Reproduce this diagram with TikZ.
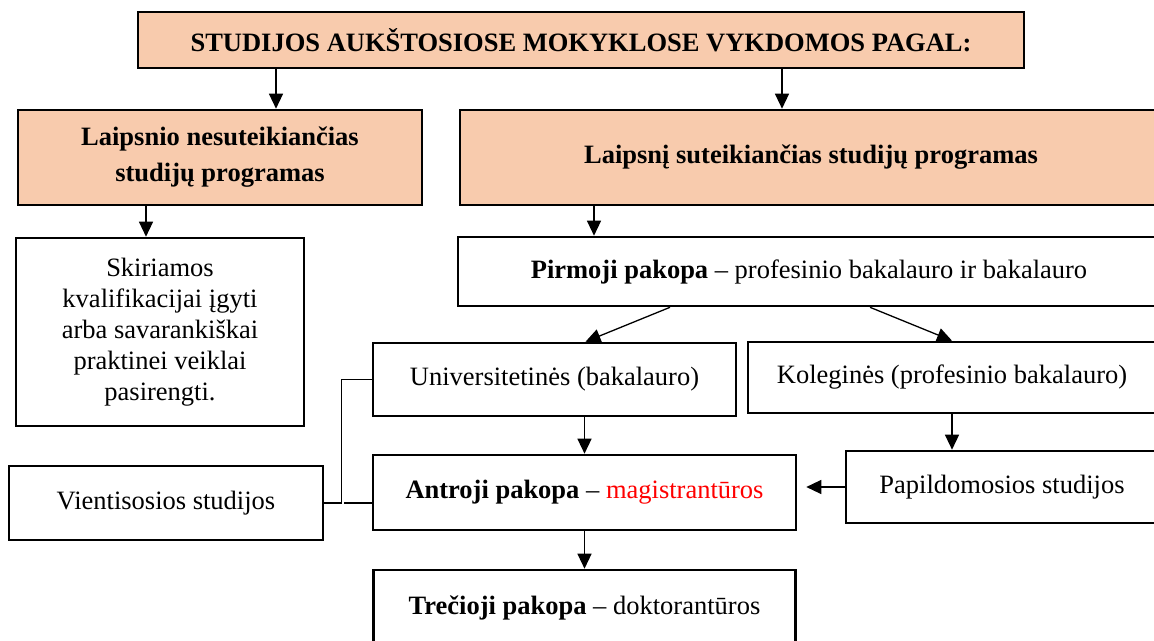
\documentclass[tikz,border=0pt]{standalone}
\usepackage{fontspec}
\setmainfont{Liberation Serif}
\usetikzlibrary{arrows.meta}
\definecolor{persikas}{HTML}{F8CBAD}

\begin{document}
\begin{tikzpicture}[x=0.5pt, y=-0.5pt,
    blokas/.style={draw, line width=1.3pt, inner sep=0pt, align=center, font=\fontsize{13.25}{15.5}\selectfont},
    spalvotas/.style={blokas, fill=persikas, font=\fontsize{13.25}{18}\selectfont\bfseries},
    rodykle/.style={-{Triangle[length=7.5pt,width=7pt]}, line width=0.65pt},
    jungtis/.style={line width=0.65pt}]
    \useasboundingbox (0,0) rectangle (1154,641);
    \clip (0,0) rectangle (1154,641);

    \node[spalvotas, minimum width=443pt, minimum height=28pt] (pagal) at (581,40)
        {STUDIJOS AUKŠTOSIOSE MOKYKLOSE VYKDOMOS PAGAL:};
    \node[spalvotas, minimum width=202pt, minimum height=47.5pt] (nesut) at (220,157.5)
        {Laipsnio nesuteikiančias\\ studijų programas};
    \node[spalvotas, minimum width=351pt, minimum height=47.5pt] (sut) at (811,157.5)
        {Laipsnį suteikiančias studijų programas};
    \node[blokas, minimum width=144pt, minimum height=94pt] (skir) at (160,332)
        {Skiriamos\\ kvalifikacijai įgyti\\ arba savarankiškai\\ praktinei veiklai\\ pasirengti.};
    \node[blokas, minimum width=351pt, minimum height=34.5pt] (pirm) at (809,271.5)
        {\textbf{Pirmoji pakopa} – profesinio bakalauro ir bakalauro};
    \node[blokas, minimum width=181.5pt, minimum height=36.5pt] (univ) at (554.5,379.5)
        {Universitetinės (bakalauro)};
    \node[blokas, minimum width=204pt, minimum height=35.5pt] (koleg) at (952,377.5)
        {Koleginės (profesinio bakalauro)};
    \node[blokas, minimum width=211.5pt, minimum height=37.5pt] (antr) at (584.5,492.5)
        {\textbf{Antroji pakopa} – \textcolor{red}{magistrantūros}};
    \node[blokas, minimum width=156pt, minimum height=36pt] (papild) at (1002,487)
        {Papildomosios studijos};
    \node[blokas, minimum width=157pt, minimum height=37pt] (vient) at (166,503)
        {Vientisosios studijos};
    \node[blokas, minimum width=211pt, minimum height=38pt] (trec) at (584.5,608)
        {\textbf{Trečioji pakopa} – doktorantūros};

    \draw[rodykle] ([xshift=-152.5pt]pagal.south) -- ([xshift=28pt]nesut.north);
    \draw[rodykle] ([xshift=100.5pt]pagal.south) -- ([xshift=-14.5pt]sut.north);
    \draw[rodykle] ([xshift=-37pt]nesut.south) -- ([xshift=-7pt]skir.north);
    \draw[rodykle] ([xshift=-108.5pt]sut.south) -- ([xshift=-107.5pt]pirm.north);
    \draw[rodykle] ([xshift=-69.5pt]pirm.south) -- ([xshift=15.5pt]univ.north);
    \draw[rodykle] ([xshift=30.5pt]pirm.south) -- (koleg.north);
    \draw[rodykle] (antr.north |- univ.south) -- (antr.north);
    \draw[rodykle] (koleg.south) -- (koleg.south |- papild.north);
    \draw[rodykle, shorten >=4.5pt] (papild.west) -- (papild.west -| antr.east);
    \draw[rodykle] (antr.south) -- (trec.north);
    \draw[jungtis] (vient.east) -- ++(8.5pt,0) |- (univ.west);
    \draw[jungtis] ([xshift=10pt]vient.east) -- (vient.east -| antr.west);
\end{tikzpicture}
\end{document}
